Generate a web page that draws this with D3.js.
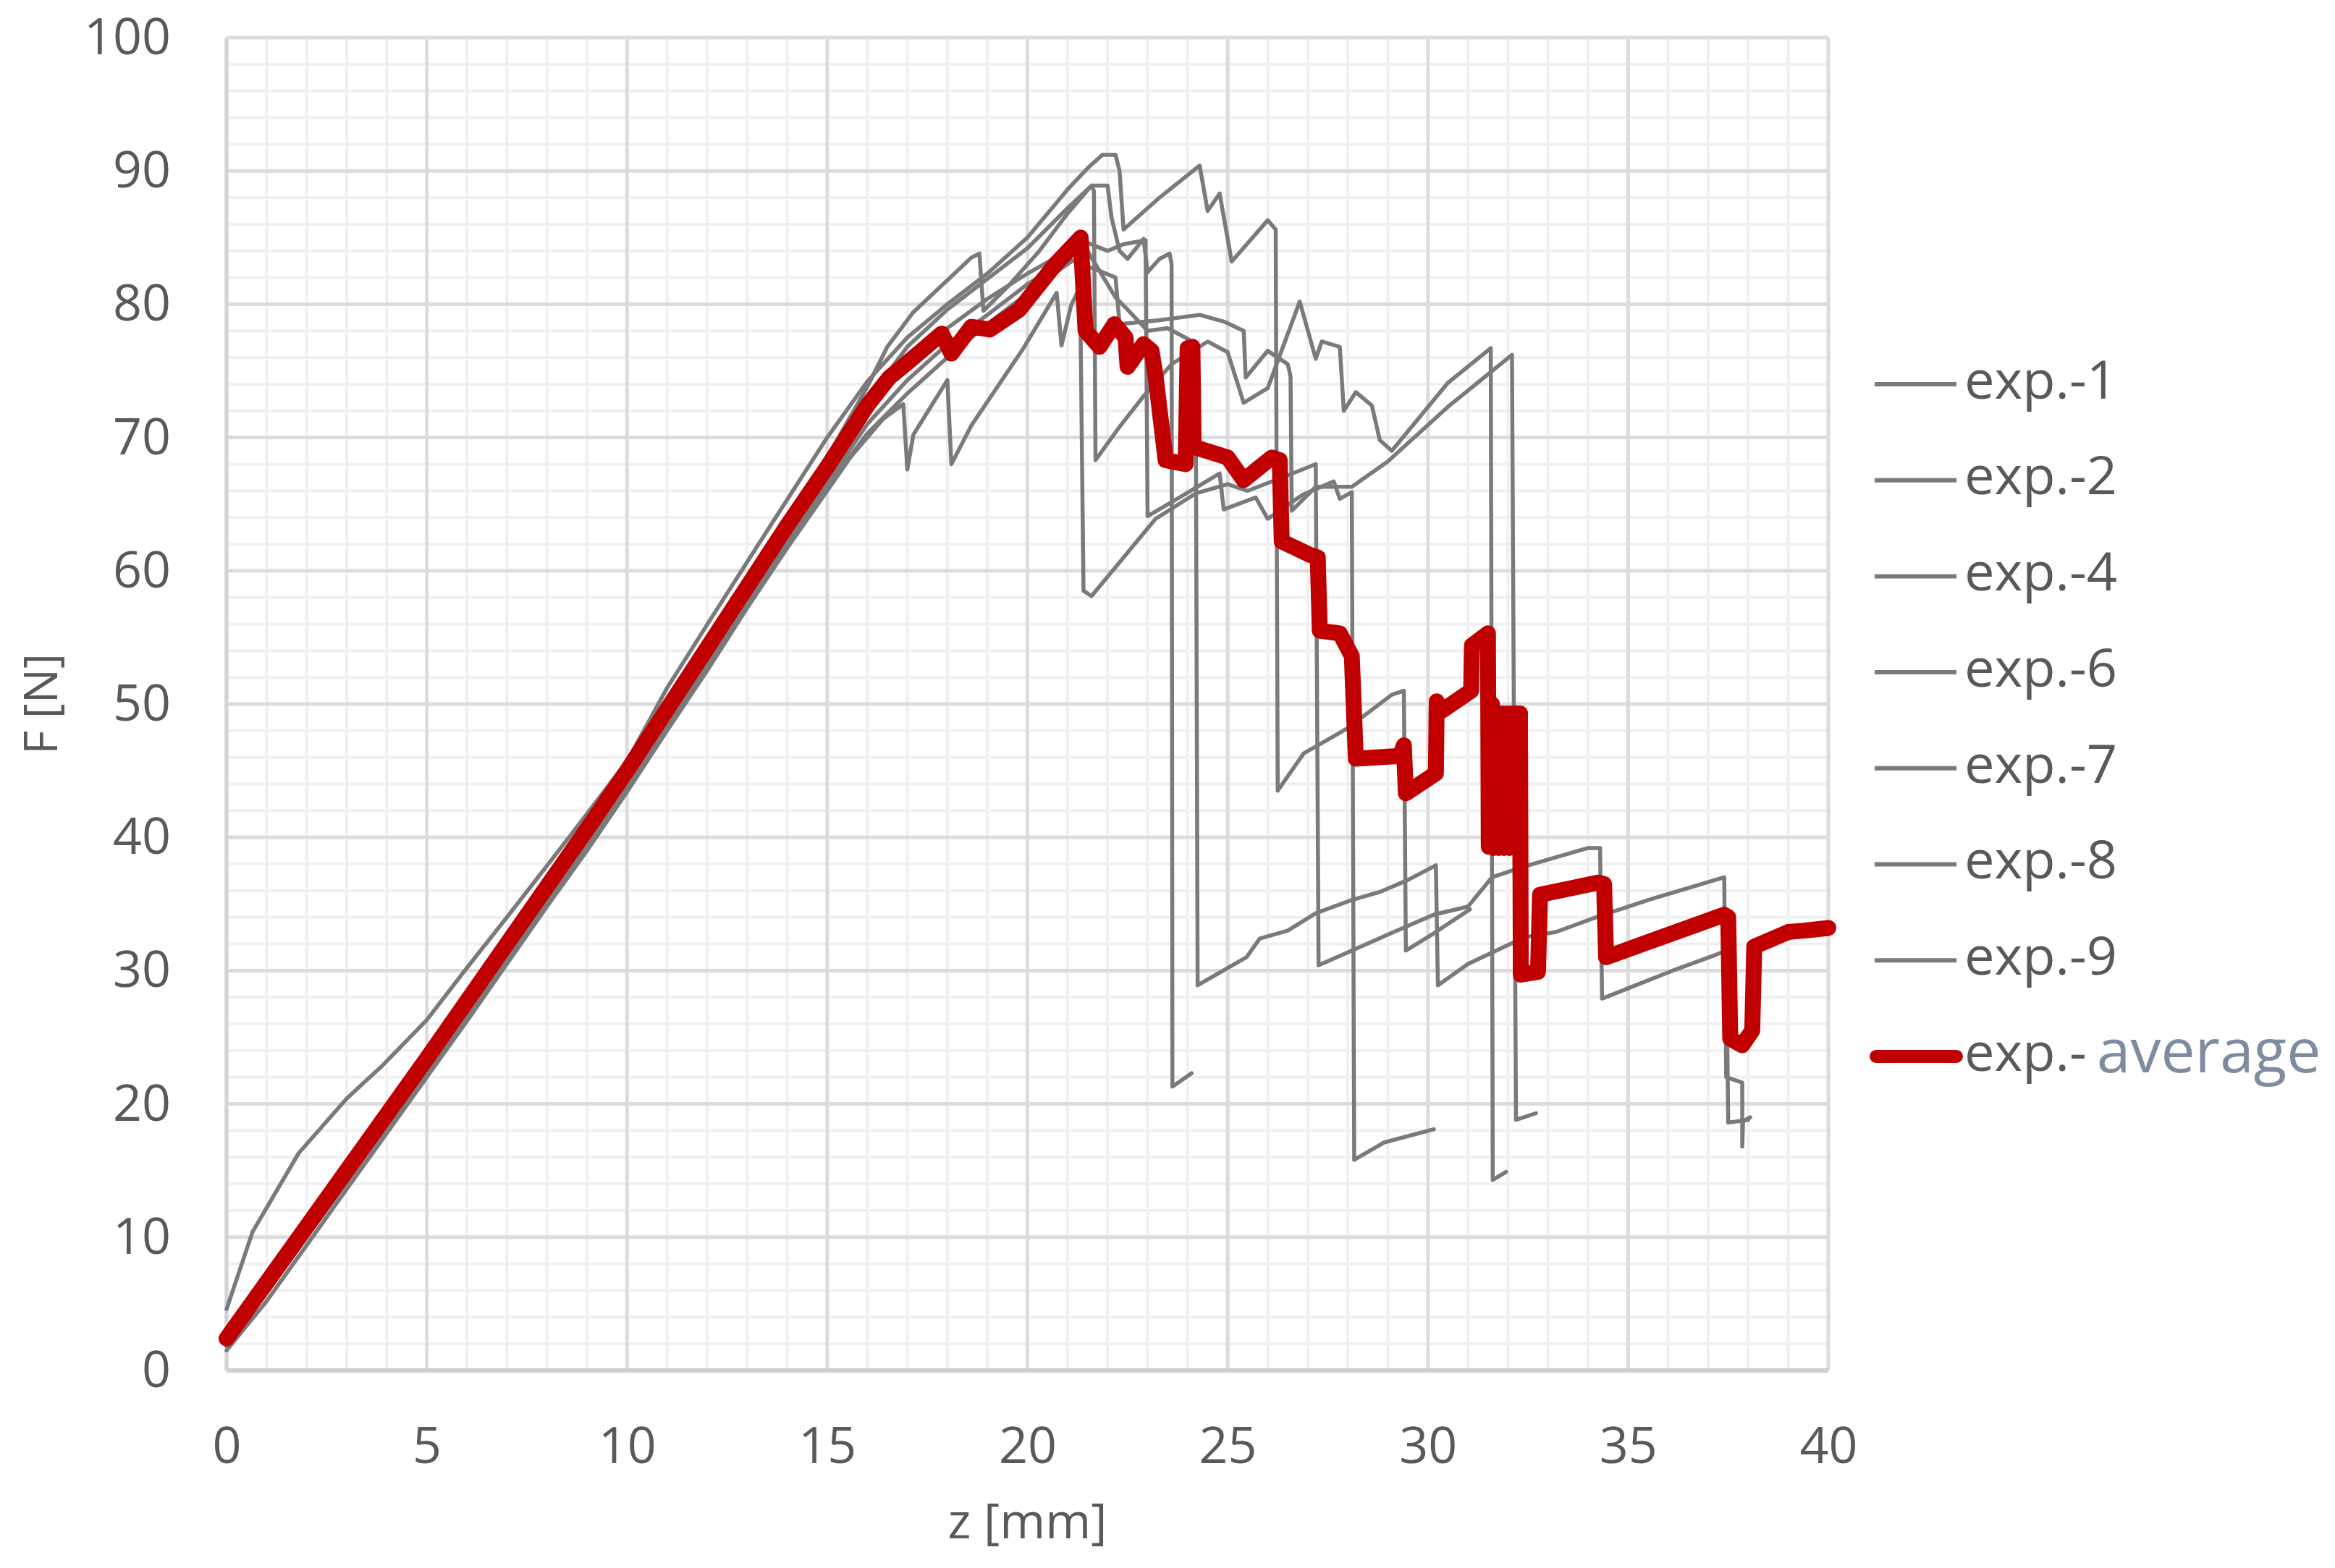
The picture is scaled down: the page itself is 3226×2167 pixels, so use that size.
<!DOCTYPE html>
<html>
<head>
<meta charset="utf-8">
<script src="https://cdn.jsdelivr.net/npm/d3@7"></script>
<style>
  html, body { margin: 0; padding: 0; background: #ffffff; }
  svg { display: block; }
  text { font-family: "Open Sans", "Noto Sans", sans-serif; }
</style>
</head>
<body>
<svg id="chart" width="3226" height="2167"></svg>
<script>
// ---------------- DATA ----------------
const seriesNames = ["exp.-1", "exp.-2", "exp.-4", "exp.-6", "exp.-7", "exp.-8", "exp.-9"];
const averageName = ["exp.-", "average"];
const xTicks = [0, 5, 10, 15, 20, 25, 30, 35, 40];
const yTicks = [0, 10, 20, 30, 40, 50, 60, 70, 80, 90, 100];
const xTitle = "z [mm]";
const yTitle = "F [N]";

// [z (mm), F (N)]
const exp1 = [[0,4.6],[0.65,10.4],[1.8,16.3],[3,20.4],[3.9,22.9],[5,26.3],[6,30.2],[7,34],[8.5,39.8],[10,45.7],[11,51.2],[12.2,56.9],[13.5,63],[15,70],[16,74.2],[17,77.5],[18,80],[19,82.3],[20,85],[21,88.6],[21.5,90.2],[21.87,91.2],[22.2,91.2],[22.3,90],[22.4,85.6],[23.3,88],[24.3,90.4],[24.5,87],[24.8,88.3],[25.1,83.2],[26.0,86.3],[26.2,85.6],[26.25,43.5],[26.9,46.3],[27.6,47.5],[28.0,48.2],[29.1,50.7],[29.4,51.0],[29.45,31.5],[30.15,32.8],[31.05,34.6]];
const exp2 = [[0,1.5],[1,5.2],[2,9.4],[3,13.6],[4,17.8],[5,22],[6,26.2],[7,30.5],[8,34.8],[9,39],[10,43.4],[11,48],[12,52.5],[13,57.2],[14,61.7],[15,66],[15.6,68.6],[16.4,71.4],[16.9,72.5],[17.0,67.6],[17.15,70.2],[18.0,74.3],[18.1,68.0],[18.6,70.9],[19.9,76.7],[20.73,80.85],[20.85,76.9],[21.09,79.9],[21.24,80.85],[21.32,79.9],[21.4,58.5],[21.6,58.1],[22.4,61],[23.2,63.9],[24.2,65.8],[25.0,66.5],[25.5,66],[26.45,67.1],[27.2,68],[27.27,30.4],[28.1,31.5],[29.15,32.9],[30.15,34.2],[31.0,34.8],[31.6,37],[32.4,37.8],[34.0,39.2],[34.3,39.2],[34.35,27.9],[36.2,30.1],[37.2,31.2],[37.45,31.5],[37.5,18.6],[38.0,18.8]];
const exp4 = [[0,2.6],[1,6.8],[2,11],[3,15.2],[4,19.4],[5,23.6],[6,27.9],[7,32.2],[8,36.5],[9,40.8],[10,45.2],[11,49.8],[12,54.5],[13,59.2],[14,63.8],[15,68.5],[16,73.8],[16.5,76.8],[17.15,79.4],[18,81.8],[18.6,83.5],[18.8,83.8],[18.9,79.5],[19.5,81.3],[20.3,84],[21,86.8],[21.6,88.9],[21.66,88.5],[21.7,68.3],[22.3,70.8],[22.9,73.1],[23.6,75.5],[24.5,77.2],[25.0,76.4],[25.4,72.6],[26.0,73.7],[26.8,80.2],[27.07,77.3],[27.2,75.9],[27.35,77.2],[27.8,76.8],[27.9,72],[28.2,73.4],[28.6,72.4],[28.8,69.8],[29.1,69],[30.5,74.1],[31.57,76.7],[31.62,14.3],[31.95,14.9]];
const exp6 = [[0,2.2],[1,6.3],[2,10.5],[3,14.7],[4,18.9],[5,23.1],[6,27.4],[7,31.7],[8,36],[9,40.3],[10,44.7],[11,49.2],[12,53.9],[13,58.5],[14,63],[15,67.6],[16,72.8],[17,76.8],[18,79.6],[19,81.9],[20,84.2],[21,87.2],[21.6,88.9],[22.0,88.9],[22.1,86.5],[22.3,84],[22.5,83.4],[22.9,84.9],[23.0,82.4],[23.3,83.4],[23.55,83.8],[23.6,83],[23.62,21.3],[24.1,22.3]];
const exp7 = [[0,2.0],[1,6.0],[2,10.2],[3,14.3],[4,18.5],[5,22.6],[6,26.8],[7,31.1],[8,35.4],[9,39.7],[10,44.1],[11,48.6],[12,53.2],[13,57.8],[14,62.3],[15,66.6],[16,71],[17,74.3],[18,77],[19,79.2],[20,81.5],[21,83.4],[21.8,82.5],[22.2,82],[22.3,78.5],[23.3,78.8],[24.3,79.2],[24.9,78.7],[25.4,78],[25.45,74.5],[26.0,76.5],[26.5,75.5],[26.57,74.6],[26.6,64.5],[27.2,66.3],[28.1,66.3],[29.0,68.2],[30.5,72.3],[32.1,76.2],[32.2,18.8],[32.7,19.3]];
const exp8 = [[0,2.4],[1,6.5],[2,10.7],[3,14.9],[4,19.1],[5,23.3],[6,27.6],[7,31.9],[8,36.2],[9,40.5],[10,44.9],[11,49.4],[12,54],[13,58.7],[14,63.2],[15,67.2],[16,72],[17,75.6],[18,78.2],[19,80.4],[20,82.3],[21,84],[21.5,84.6],[22.0,84],[22.4,84.5],[22.95,84.8],[23.0,64.1],[23.8,65.5],[24.8,67.3],[24.9,64.6],[25.7,65.5],[26.0,63.9],[26.87,65.7],[27.65,66.7],[27.8,65.4],[28.1,65.9],[28.16,15.8],[28.9,17.1],[30.15,18.1]];
const exp9 = [[0,1.8],[1,5.8],[2,10],[3,14.1],[4,18.3],[5,22.4],[6,26.6],[7,30.9],[8,35.2],[9,39.5],[10,43.9],[11,48.4],[12,53],[13,57.6],[14,62],[15,66.3],[16,70.3],[17,73.3],[18,76],[19,78.5],[20,80.8],[21,83],[21.5,84],[21.9,82],[22.2,80.5],[22.5,79.6],[23.0,78],[23.5,78.2],[24.0,77.4],[24.2,77],[24.25,28.9],[25.47,31],[25.8,32.4],[26.5,33],[27.2,34.3],[28.1,35.3],[28.8,35.9],[29.5,36.8],[30.2,37.9],[30.25,28.9],[31.0,30.5],[32.06,32],[32.4,32.5],[33.2,32.9],[34.2,34],[35.5,35.3],[37.4,37],[37.45,22],[37.85,21.6],[37.85,16.8],[37.87,18.7],[38.05,19]];
const expAverage = [[0,2.4],[1,6.6],[2,10.8],[3,15],[4,19.2],[5,23.4],[6,27.7],[7,32],[8,36.3],[9,40.6],[10,45],[11,49.6],[12,54.2],[13,58.8],[14,63.4],[15,67.8],[16,72.4],[16.55,74.5],[17.0,75.6],[17.86,77.8],[18.1,76.3],[18.6,78.3],[19.06,78.1],[19.8,79.6],[20.7,83],[21.33,85.0],[21.45,78],[21.8,76.8],[22.17,78.5],[22.45,77.5],[22.5,75.3],[22.9,77],[23.1,76.5],[23.2,74.6],[23.45,68.3],[23.95,68],[24.0,76.7],[24.12,76.8],[24.15,69.3],[25.0,68.5],[25.4,66.8],[26.1,68.5],[26.3,68.3],[26.35,62.2],[27.05,61.2],[27.25,61],[27.3,55.5],[27.8,55.3],[28.1,53.6],[28.2,45.9],[29.3,46.1],[29.4,46.9],[29.45,43.3],[30.2,44.8],[30.22,50.2],[30.35,49.5],[31.08,51],[31.1,54.4],[31.5,55.3],[31.52,39.3],[31.6,50],[31.64,39.2],[31.72,49.3],[31.77,39.2],[31.85,49.3],[31.9,39.2],[31.98,49.3],[32.03,39.2],[32.1,49.3],[32.3,49.3],[32.32,29.7],[32.75,29.9],[32.8,35.7],[34.25,36.6],[34.4,36.5],[34.45,31],[37.4,34.2],[37.5,34],[37.55,24.9],[37.85,24.4],[38.1,25.5],[38.15,31.8],[39.0,32.9],[39.4,33.0],[40,33.2]];

const greySeries = [exp1, exp2, exp4, exp6, exp7, exp8, exp9];

// ---------------- LAYOUT ----------------
const W = 3226, H = 2167;
const plot = { left: 313, right: 2526, top: 52, bottom: 1894 };
const textColor = "#595959";
const greyColor = "#7a7a7a";
const redColor = "#c00000";

const svg = d3.select("#chart");
svg.append("rect").attr("width", W).attr("height", H).attr("fill", "#ffffff");

const x = d3.scaleLinear().domain([0, 40]).range([plot.left, plot.right]);
const y = d3.scaleLinear().domain([0, 100]).range([plot.bottom, plot.top]);

// grid
const grid = svg.append("g");
const minorX = d3.range(0, 41, 1).filter(v => v % 5 !== 0);
const minorY = d3.range(0, 101, 2).filter(v => v % 10 !== 0);
grid.selectAll(".mx").data(minorX).join("line")
  .attr("x1", d => x(d)).attr("x2", d => x(d))
  .attr("y1", plot.top).attr("y2", plot.bottom)
  .attr("stroke", "#f0f0f0").attr("stroke-width", 4);
grid.selectAll(".my").data(minorY).join("line")
  .attr("y1", d => y(d)).attr("y2", d => y(d))
  .attr("x1", plot.left).attr("x2", plot.right)
  .attr("stroke", "#f0f0f0").attr("stroke-width", 4);
grid.selectAll(".MX").data(xTicks).join("line")
  .attr("x1", d => x(d)).attr("x2", d => x(d))
  .attr("y1", plot.top).attr("y2", plot.bottom)
  .attr("stroke", "#dcdcdc").attr("stroke-width", 5);
grid.selectAll(".MY").data(yTicks).join("line")
  .attr("y1", d => y(d)).attr("y2", d => y(d))
  .attr("x1", plot.left).attr("x2", plot.right)
  .attr("stroke", "#dcdcdc").attr("stroke-width", 5);
svg.append("line")
  .attr("x1", plot.left).attr("x2", plot.right)
  .attr("y1", y(0)).attr("y2", y(0))
  .attr("stroke", "#cfcfcf").attr("stroke-width", 6);
svg.append("line")
  .attr("x1", x(0)).attr("x2", x(0))
  .attr("y1", plot.top).attr("y2", plot.bottom)
  .attr("stroke", "#d4d4d4").attr("stroke-width", 5);

// axes
const xAxis = d3.axisBottom(x).tickValues(xTicks).tickSize(0).tickPadding(0).tickFormat(d3.format("d"));
const gx = svg.append("g").attr("transform", `translate(0,${plot.bottom})`).call(xAxis);
gx.select(".domain").remove();
gx.selectAll("text")
  .attr("y", 78).attr("dy", "0.71em")
  .attr("fill", textColor).style("font-size", "70px");

const yAxis = d3.axisLeft(y).tickValues(yTicks).tickSize(0).tickPadding(77).tickFormat(d3.format("d"));
const gy = svg.append("g").attr("transform", `translate(${plot.left},0)`).call(yAxis);
gy.select(".domain").remove();
gy.selectAll("text")
  .attr("fill", textColor).style("font-size", "70px");

// axis titles
svg.append("text")
  .attr("x", (plot.left + plot.right) / 2).attr("y", 2108)
  .attr("text-anchor", "middle").attr("dominant-baseline", "middle")
  .attr("fill", textColor).style("font-size", "68px")
  .text(xTitle);
svg.append("text")
  .attr("transform", `translate(62,${(plot.top + plot.bottom) / 2}) rotate(-90)`)
  .attr("text-anchor", "middle").attr("dominant-baseline", "middle")
  .attr("fill", textColor).style("font-size", "64px")
  .text(yTitle);

// series
const line = d3.line().x(d => x(d[0])).y(d => y(d[1]));
svg.append("g").selectAll("path").data(greySeries).join("path")
  .attr("d", line)
  .attr("fill", "none").attr("stroke", greyColor)
  .attr("stroke-width", 5.5).attr("stroke-linejoin", "round").attr("stroke-linecap", "round");
svg.append("path").datum(expAverage)
  .attr("d", line)
  .attr("fill", "none").attr("stroke", redColor)
  .attr("stroke-width", 22).attr("stroke-linejoin", "round").attr("stroke-linecap", "round");

// legend
const legend = svg.append("g");
const legY0 = 531, legStep = 132.7;
seriesNames.forEach((name, i) => {
  const yy = legY0 + i * legStep;
  legend.append("line").attr("x1", 2590).attr("x2", 2703).attr("y1", yy).attr("y2", yy)
    .attr("stroke", greyColor).attr("stroke-width", 6);
  legend.append("text").attr("x", 2714).attr("y", yy)
    .attr("dominant-baseline", "middle").attr("fill", textColor)
    .style("font-size", "74px").text(name);
});
{
  const yy = legY0 + seriesNames.length * legStep;
  legend.append("line").attr("x1", 2592).attr("x2", 2703).attr("y1", yy).attr("y2", yy)
    .attr("stroke", redColor).attr("stroke-width", 18).attr("stroke-linecap", "round");
  const t = legend.append("text").attr("x", 2714).attr("y", yy)
    .attr("dominant-baseline", "middle").style("font-size", "74px");
  t.append("tspan").attr("fill", textColor).text(averageName[0]);
  t.append("tspan").attr("fill", "#7d8ca0").attr("dx", 14).style("font-size", "84px").text(averageName[1]);
}
</script>
</body>
</html>
